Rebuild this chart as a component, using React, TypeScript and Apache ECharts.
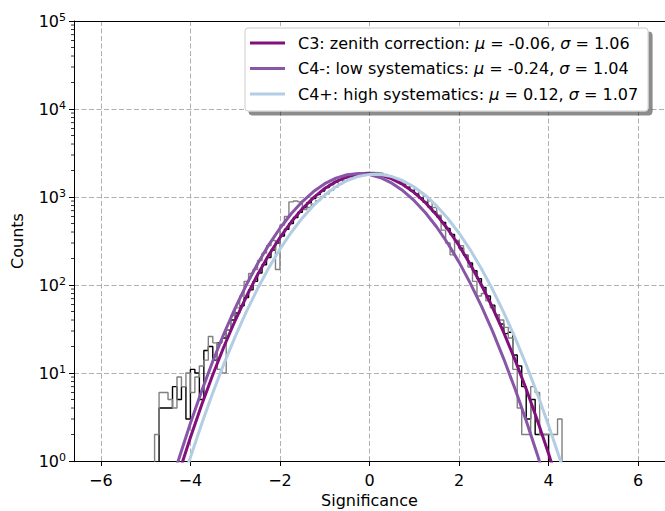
import React, { useEffect, useRef } from 'react';
import * as echarts from 'echarts';

// Histogram bins: start and width (in significance units)
const binStart = -4.9;
const binWidth = 0.1;

// Black histogram counts (bins from -4.9 to 4.4)
const blackCounts = [
  0, 0, 4, 4, 4, 7, 5, 7, 3, 11,
  10, 5, 18, 20, 14, 22, 25, 31, 40, 48,
  58, 72, 88, 110, 137, 170, 205, 250, 300, 360,
  430, 500, 585, 670, 760, 860, 960, 1065, 1170, 1280,
  1385, 1480, 1570, 1650, 1720, 1775, 1815, 1845, 1865, 1860,
  1830, 1785, 1725, 1655, 1575, 1485, 1390, 1290, 1185, 1080,
  975, 870, 775, 680, 595, 515, 440, 375, 315, 262,
  218, 178, 145, 118, 94, 75, 59, 46, 36, 28,
  29, 16, 12, 7, 3, 5, 2, 2, 2, 0,
  0, 0, 0,
];

// Gray histogram counts (same bins)
const grayCounts = [
  0, 2, 6, 6, 5, 4, 9, 7, 10, 6,
  9, 12, 14, 26, 22, 11, 10, 31, 45, 55,
  75, 110, 135, 150, 190, 230, 280, 320, 150, 480,
  600, 880, 900, 880, 720, 760, 830, 910, 1000, 1090,
  1190, 1300, 1410, 1520, 1620, 1720, 1790, 1850, 1900, 1900,
  1890, 1860, 1800, 1730, 1650, 1570, 1490, 1410, 1320, 1220,
  1120, 1020, 900, 760, 620, 420, 300, 220, 320, 280,
  220, 160, 110, 75, 80, 66, 55, 46, 40, 33,
  25, 11, 4, 2, 2, 7, 6, 2, 2, 2,
  2, 3, 0,
];

const curveX = [
  -4.5, -4.25, -4.0, -3.75, -3.5, -3.25, -3.0, -2.75, -2.5, -2.25,
  -2.0, -1.75, -1.5, -1.25, -1.0, -0.75, -0.5, -0.25, 0.0, 0.25,
  0.5, 0.75, 1.0, 1.25, 1.5, 1.75, 2.0, 2.25, 2.5, 2.75,
  3.0, 3.25, 3.5, 3.75, 4.0, 4.25, 4.5,
];
const c3Values = [
  0.286, 0.748, 1.85, 4.32, 9.55, 20.0, 39.5, 73.9, 130.8, 218.9,
  346.4, 518.8, 735, 985, 1248, 1496, 1697, 1820, 1847, 1772,
  1609, 1381, 1122, 862, 626, 430, 280, 172, 100, 55.1,
  28.7, 14.1, 6.57, 2.89, 1.21, 0.475, 0.177,
];
const c4mValues = [
  0.42, 1.09, 2.68, 6.22, 13.6, 28.1, 54.7, 100.5, 174.4, 285.7,
  441.7, 644.6, 888, 1154, 1416, 1640, 1792, 1849, 1801, 1655,
  1436, 1176, 908, 663, 456, 296, 182, 105, 57.5, 29.7,
  14.4, 6.63, 2.87, 1.18, 0.455, 0.166, 0.057,
];
const c4pValues = [
  0.163, 0.435, 1.10, 2.63, 5.95, 12.8, 25.9, 49.9, 90.8, 156.6,
  255.6, 395.2, 578, 802, 1052, 1308, 1539, 1714, 1808, 1806,
  1708, 1530, 1298, 1042, 792, 570, 389, 251, 153, 88.8,
  48.6, 25.2, 12.4, 5.77, 2.54, 1.06, 0.418,
];

const seriesNames = [
  'C3: zenith correction: μ = -0.06, σ = 1.06',
  'C4-: low systematics: μ = -0.24, σ = 1.04',
  'C4+: high systematics: μ = 0.12, σ = 1.07',
];
const seriesColors = ['#810f7c', '#8856a7', '#b3cde3'];

const xTicks = [-6, -4, -2, 0, 2, 4, 6];
const xMin = -6.6;
const xMax = 6.6;
const yMinorTicks = [
  2, 3, 4, 5, 6, 7, 8, 9,
  20, 30, 40, 50, 60, 70, 80, 90,
  200, 300, 400, 500, 600, 700, 800, 900,
  2000, 3000, 4000, 5000, 6000, 7000, 8000, 9000,
  20000, 30000, 40000, 50000, 60000, 70000, 80000, 90000,
];

const FONT = 'DejaVu Sans';
const FS = 16;

function stepPoints(counts: number[]): number[][] {
  const floor = 0.05;
  const pts: number[][] = [];
  pts.push([binStart, floor]);
  counts.forEach((c, i) => {
    const x0 = +(binStart + i * binWidth).toFixed(3);
    const x1 = +(binStart + (i + 1) * binWidth).toFixed(3);
    const v = c > 0 ? c : floor;
    pts.push([x0, v], [x1, v]);
  });
  pts.push([+(binStart + counts.length * binWidth).toFixed(3), floor]);
  return pts;
}

export default function App() {
  const ref = useRef<HTMLDivElement>(null);
  useEffect(() => {
    if (!ref.current) return;
    const chart = echarts.init(ref.current, undefined, { renderer: 'svg' });
    const curves = [c3Values, c4mValues, c4pValues];
    const option: any = {
      animation: false,
      backgroundColor: '#ffffff',
      textStyle: { fontFamily: FONT },
      grid: { left: 74, right: 0, top: 21, bottom: 50, containLabel: false, outerBoundsMode: 'none' },
      legend: {
        data: seriesNames.map((name) => ({ name, icon: 'rect' })),
        orient: 'vertical',
        left: 245,
        top: 28,
        itemWidth: 35,
        itemHeight: 3,
        itemGap: 5.5,
        padding: [5, 10, 7, 5],
        backgroundColor: '#ffffff',
        borderColor: '#cccccc',
        borderWidth: 1,
        borderRadius: 3,
        shadowColor: 'rgba(0,0,0,0.45)',
        shadowBlur: 0,
        shadowOffsetX: 4,
        shadowOffsetY: 4,
        selectedMode: false,
        formatter: (name: string) =>
          name.replace(/μ/g, '{i|μ}').replace(/σ/g, '{i|σ}'),
        textStyle: {
          fontFamily: FONT,
          fontSize: FS,
          lineHeight: 20,
          color: '#000',
          padding: [0, 0, 0, 8],
          rich: {
            i: { fontFamily: FONT, fontSize: FS, lineHeight: 20, fontStyle: 'italic', color: '#000' },
          },
        },
      },
      xAxis: [
        {
          type: 'value',
          min: xMin,
          max: xMax,
          name: 'Significance',
          nameLocation: 'middle',
          nameGap: 31,
          nameTextStyle: { fontFamily: FONT, fontSize: FS, color: '#000' },
          axisLine: { show: true, onZero: false, lineStyle: { color: '#000', width: 1 } },
          axisTick: { show: true, inside: false, length: 5, customValues: xTicks, lineStyle: { color: '#000', width: 1 } },
          axisLabel: {
            customValues: xTicks,
            margin: 11,
            fontFamily: FONT,
            fontSize: FS,
            color: '#000',
            formatter: (v: number) => (v < 0 ? '\u2212' + Math.abs(v) : String(v)),
          },
          splitLine: { show: true, lineStyle: { color: '#b0b0b0', width: 1, type: [5, 2.5] } },
        },
        {
          type: 'value',
          position: 'top',
          min: xMin,
          max: xMax,
          axisLine: { show: true, onZero: false, lineStyle: { color: '#000', width: 1 } },
          axisTick: { show: false },
          axisLabel: { show: false },
          splitLine: { show: false },
        },
      ],
      yAxis: {
        type: 'log',
        logBase: 10,
        min: 1,
        max: 100000,
        splitNumber: 5,
        name: 'Counts',
        nameLocation: 'middle',
        nameGap: 49,
        nameTextStyle: { fontFamily: FONT, fontSize: FS, color: '#000' },
        axisLine: { show: true, onZero: false, lineStyle: { color: '#000', width: 1 } },
        axisTick: { show: true, inside: false, length: 5, lineStyle: { color: '#000', width: 1 } },
        axisLabel: {
          margin: 8,
          fontFamily: FONT,
          fontSize: FS,
          color: '#000',
          formatter: (v: number) => `{b|10}{e|${Math.round(Math.log10(v))}}`,
          rich: {
            b: { fontFamily: FONT, fontSize: FS, color: '#000' },
            e: { fontFamily: FONT, fontSize: 11, color: '#000', padding: [0, 0, 8, 0] },
          },
        },
        splitLine: { show: true, lineStyle: { color: '#b0b0b0', width: 1, type: [5, 2.5] } },
      },
      series: [
        {
          name: 'hist-black',
          type: 'line',
          data: stepPoints(blackCounts),
          showSymbol: false,
          symbol: 'none',
          lineStyle: { color: '#000000', width: 1.4 },
          z: 2,
          silent: true,
        },
        {
          name: 'hist-gray',
          type: 'line',
          data: stepPoints(grayCounts),
          showSymbol: false,
          symbol: 'none',
          lineStyle: { color: '#808080', width: 1.4 },
          z: 2,
          silent: true,
        },
        ...seriesNames.map((name, k) => ({
          name,
          type: 'line',
          data: curveX.map((x, i) => [x, curves[k][i]]),
          showSymbol: false,
          symbol: 'none',
          color: seriesColors[k],
          itemStyle: { color: seriesColors[k] },
          lineStyle: { color: seriesColors[k], width: 3 },
          z: 3,
          silent: true,
        })),
        {
          name: 'minor-ticks',
          type: 'custom',
          coordinateSystem: 'cartesian2d',
          clip: false,
          silent: true,
          data: yMinorTicks.map((v) => [xMin, v]),
          renderItem: (params: any, api: any) => {
            const p = api.coord([api.value(0), api.value(1)]);
            return {
              type: 'line',
              shape: { x1: p[0] - 3, y1: p[1], x2: p[0], y2: p[1] },
              style: { stroke: '#000', lineWidth: 0.8 },
            };
          },
          z: 5,
        },
      ],
    };
    chart.setOption(option);
    return () => chart.dispose();
  }, []);
  return (
    <div
      ref={ref}
      style={{ position: 'fixed', left: 0, top: 0, width: 665, height: 511, background: '#fff' }}
    />
  );
}
